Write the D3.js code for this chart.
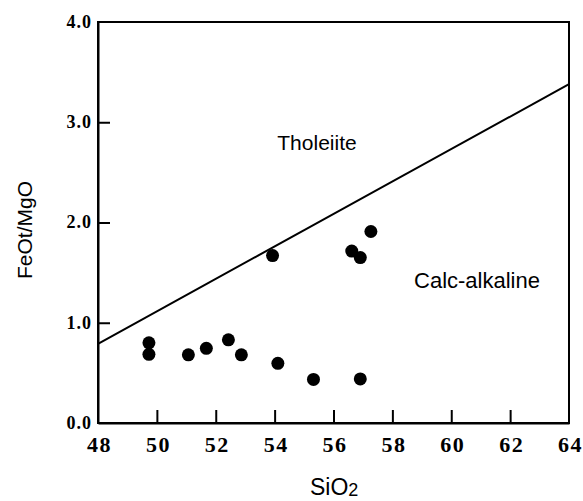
<!DOCTYPE html>
<html lang="en">
<head>
<meta charset="utf-8">
<title>FeOt/MgO vs SiO2</title>
<script src="https://d3js.org/d3.v7.min.js"></script>
<style>
  body { margin: 0; background: #fff; }
  svg { display: block; }
  .tick text { font-family: "Liberation Serif", "Times New Roman", serif; font-weight: bold; fill: #000; }
  .field { font-family: "Liberation Sans", Arial, sans-serif; fill: #000; }
</style>
</head>
<body>
<div id="chart"></div>
<script>
// samples
var sio2 = [49.73, 49.73, 51.07, 51.68, 52.43, 52.87, 53.93, 54.11, 55.32, 56.62, 56.91, 57.27, 56.91];
var feoMgo = [0.80, 0.685, 0.68, 0.745, 0.83, 0.68, 1.67, 0.595, 0.435, 1.715, 1.65, 1.91, 0.44];

// tholeiite / calc-alkaline divide
var divideX = [48, 64];
var divideY = [0.79, 3.38];

var xTickLabels = [48, 50, 52, 54, 56, 58, 60, 62, 64];
var yTickLabels = [0, 1, 2, 3, 4];

var w = 583, h = 501;
// plot box (note: "top" is taken by window.top)
var pLeft = 98, pRight = 569, pTop = 22, pBottom = 423;

var svg = d3.select("#chart").append("svg")
  .attr("width", w)
  .attr("height", h);

var x = d3.scaleLinear().domain([48, 64]).range([pLeft, pRight]);
var y = d3.scaleLinear().domain([0, 4]).range([pBottom, pTop]);

// frame
svg.append("rect")
  .attr("x", pLeft).attr("y", pTop)
  .attr("width", pRight - pLeft).attr("height", pBottom - pTop)
  .attr("fill", "none").attr("stroke", "#000").attr("stroke-width", 2);

// x axis, ticks point inward
var xAxis = d3.axisBottom(x)
  .tickValues(xTickLabels)
  .tickSize(-13)
  .tickSizeOuter(0)
  .tickPadding(13)
  .tickFormat(d3.format("d"));

var gx = svg.append("g")
  .attr("transform", "translate(0," + pBottom + ")")
  .call(xAxis);
gx.select(".domain").attr("stroke-width", 2);
gx.selectAll(".tick line").attr("stroke-width", 2)
  .attr("display", function(d) { return (d == 48 || d == 64) ? "none" : null; });
gx.selectAll(".tick text")
  .attr("font-size", 22)
  .attr("letter-spacing", 1.5)
  .attr("dx", 1);

var yAxis = d3.axisLeft(y)
  .tickValues(yTickLabels)
  .tickSize(-12)
  .tickSizeOuter(0)
  .tickPadding(6)
  .tickFormat(d3.format(".1f"));

var gy = svg.append("g")
  .attr("transform", "translate(" + pLeft + ",0)")
  .call(yAxis);
gy.select(".domain").attr("stroke-width", 2);
gy.selectAll(".tick line").attr("stroke-width", 2)
  .attr("display", function(d) { return (d == 0 || d == 4) ? "none" : null; });
gy.selectAll(".tick text")
  .attr("font-size", 18)
  .attr("letter-spacing", 1)
  .attr("dy", "0.3em");

// divide line
var line = d3.line()
  .x(function(d) { return x(d[0]); })
  .y(function(d) { return y(d[1]); });

svg.append("path")
  .datum(d3.zip(divideX, divideY))
  .attr("d", line)
  .attr("fill", "none")
  .attr("stroke", "#000")
  .attr("stroke-width", 2);

// samples
svg.selectAll("circle.pt")
  .data(d3.zip(sio2, feoMgo))
  .enter()
  .append("circle")
  .attr("class", "pt")
  .attr("cx", function(d) { return x(d[0]); })
  .attr("cy", function(d) { return y(d[1]); })
  .attr("r", 6.5)
  .attr("fill", "#000");

// field names
svg.append("text").attr("class", "field")
  .attr("x", 317).attr("y", 150)
  .attr("text-anchor", "middle")
  .attr("font-size", 21)
  .text("Tholeiite");

svg.append("text").attr("class", "field")
  .attr("x", 477).attr("y", 288)
  .attr("text-anchor", "middle")
  .attr("font-size", 22)
  .text("Calc-alkaline");

// axis titles
svg.append("text").attr("class", "field")
  .attr("transform", "translate(32,230) rotate(-90)")
  .attr("text-anchor", "middle")
  .attr("font-size", 21)
  .text("FeOt/MgO");

var xt = svg.append("text").attr("class", "field")
  .attr("x", 310).attr("y", 495)
  .attr("font-size", 23);
xt.append("tspan").text("SiO");
xt.append("tspan").attr("font-size", 18).attr("dy", 1).text("2");
</script>
</body>
</html>
